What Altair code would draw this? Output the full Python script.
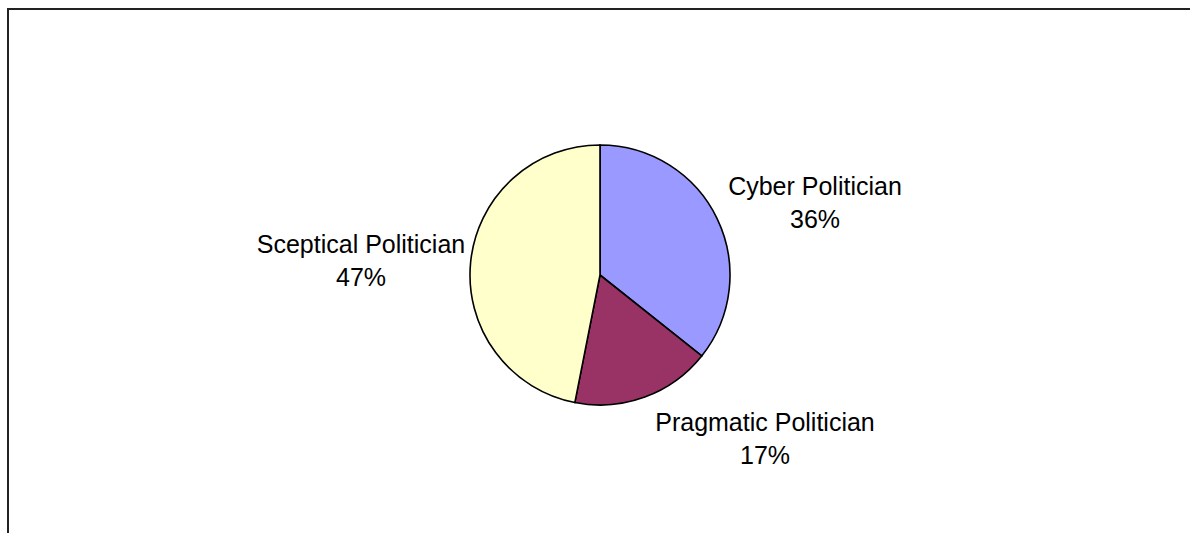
import altair as alt
import pandas as pd

categories = ["Cyber Politician", "Pragmatic Politician", "Sceptical Politician"]
values = [35.7, 17.4, 46.9]
pct_labels = ["36%", "17%", "47%"]
colors = ["#9999FF", "#993366", "#FFFFCC"]
slice_order = [0, 1, 2]

df = pd.DataFrame({"category": categories, "value": values,
                   "pct": pct_labels, "order": slice_order})

W, H = 1190, 533
CX, CY, R = 600, 275, 130

pie = alt.Chart(df).mark_arc(outerRadius=R, stroke="black", strokeWidth=1.6).encode(
    theta=alt.Theta("value:Q", stack=True),
    order=alt.Order("order:Q"),
    color=alt.Color("category:N", scale=alt.Scale(domain=categories, range=colors), legend=None),
    x=alt.value(CX),
    y=alt.value(CY),
)

label_pos = {
    "Cyber Politician": (815, 187),
    "Pragmatic Politician": (765, 423),
    "Sceptical Politician": (361, 245),
}

layers = []
frame = alt.Chart(df).mark_rect(fill=None, stroke="#222222", strokeWidth=2).encode(
    x=alt.value(8), y=alt.value(9), x2=alt.value(W + 50), y2=alt.value(H + 50)
)
layers.append(frame)
layers.append(pie)
for cat in categories:
    px, py = label_pos[cat]
    t = alt.Chart(df).transform_filter(alt.datum.category == cat).transform_calculate(
        label="datum.category + '\\n' + datum.pct"
    ).mark_text(
        lineBreak="\n", lineHeight=33, fontSize=25, font="Liberation Sans",
        color="black", align="center", baseline="middle"
    ).encode(text="label:N", x=alt.value(px), y=alt.value(py))
    layers.append(t)

chart = alt.layer(*layers).properties(
    width=W, height=H, padding=0, autosize=alt.AutoSizeParams(type="none")
).configure_view(stroke=None)

chart.save("out.html", embed_options={"renderer": "svg", "actions": False})
